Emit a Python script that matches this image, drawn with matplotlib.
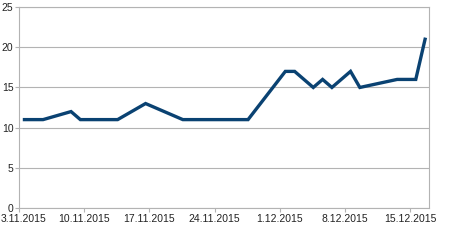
import datetime
import matplotlib
matplotlib.use("Agg")
import matplotlib.pyplot as plt
import matplotlib.transforms as mtransforms
from matplotlib import dates
from matplotlib.ticker import FuncFormatter

plt.rcParams['font.family'] = ['Liberation Sans', 'DejaVu Sans']

# data (points sit around mid-day)
days = ["2015-11-03", "2015-11-05", "2015-11-08", "2015-11-09", "2015-11-13",
        "2015-11-16", "2015-11-20", "2015-11-27", "2015-12-01", "2015-12-02",
        "2015-12-04", "2015-12-05", "2015-12-06", "2015-12-08", "2015-12-09",
        "2015-12-13", "2015-12-15", "2015-12-16"]
values = [11, 11, 12, 11, 11, 13, 11, 11, 17, 17, 15, 16, 15, 17, 15, 16, 16, 21]
tick_days = ["2015-11-03", "2015-11-10", "2015-11-17", "2015-11-24",
             "2015-12-01", "2015-12-08", "2015-12-15"]

x = [datetime.datetime.strptime(d, "%Y-%m-%d") + datetime.timedelta(hours=14) for d in days]
ticks = [datetime.datetime.strptime(d, "%Y-%m-%d") for d in tick_days]

fig = plt.figure(figsize=(4.56, 2.45), dpi=100)
ax = fig.add_axes([0.0417, 0.151, 0.899, 0.820])

ax.plot(x, values, color='#0a4272', linewidth=2.4, solid_joinstyle='miter', zorder=3)

ax.set_xlim(datetime.datetime(2015, 11, 3), datetime.datetime(2015, 12, 17))
ax.set_ylim(0, 25)
ax.set_yticks([0, 5, 10, 15, 20, 25])
ax.set_xticks(ticks)
ax.xaxis.set_major_formatter(FuncFormatter(
    lambda v, pos: "%d.%d.%d" % (dates.num2date(v).day, dates.num2date(v).month, dates.num2date(v).year)))

ax.grid(axis='y', color='#b3b3b3', linewidth=0.8)
for s in ax.spines.values():
    s.set_color('#b3b3b3')
    s.set_linewidth(0.8)
ax.tick_params(axis='both', colors='#b3b3b3', labelcolor='#222222', labelsize=7.5, length=3, width=0.8, pad=1)

# first date label is pushed right a bit so it stays inside the picture
fig.canvas.draw()
first = ax.get_xticklabels()[0]
first.set_transform(first.get_transform() + mtransforms.ScaledTranslation(5 / 100, 0, fig.dpi_scale_trans))

fig.savefig("out.png", dpi=100)
